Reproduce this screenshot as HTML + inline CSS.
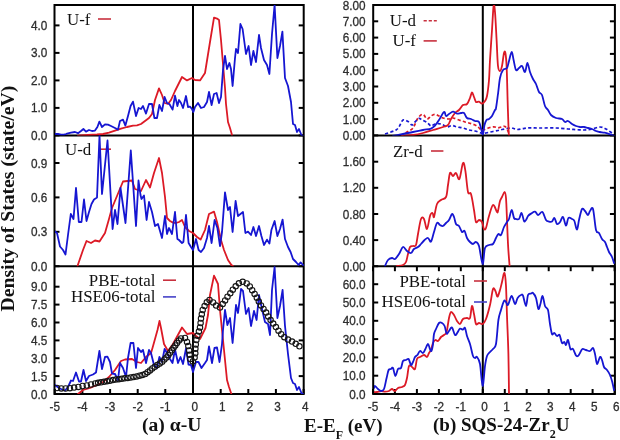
<!DOCTYPE html><html><head><meta charset="utf-8"><style>html,body{margin:0;padding:0;background:#fff;overflow:hidden}svg{display:block;filter:blur(0.42px)}</style></head><body>
<svg width="620" height="440" viewBox="0 0 620 440">
<rect width="620" height="440" fill="#fff"/>
<defs><clipPath id="cLT"><rect x="55" y="5" width="249" height="130.4"/></clipPath><clipPath id="cLM"><rect x="55" y="135.4" width="249" height="130.8"/></clipPath><clipPath id="cLB"><rect x="55" y="266.2" width="249" height="127.8"/></clipPath><clipPath id="cRT"><rect x="374" y="5" width="241" height="130.4"/></clipPath><clipPath id="cRM"><rect x="374" y="135.4" width="241" height="130.8"/></clipPath><clipPath id="cRB"><rect x="374" y="266.2" width="241" height="127.8"/></clipPath></defs>
<rect x="54.5" y="5" width="249.2" height="389" fill="none" stroke="#000" stroke-width="2"/>
<line x1="54.5" y1="135.4" x2="303.7" y2="135.4" stroke="#000" stroke-width="2"/>
<line x1="54.5" y1="266.2" x2="303.7" y2="266.2" stroke="#000" stroke-width="2"/>
<line x1="193.0" y1="5" x2="193.0" y2="394" stroke="#000" stroke-width="2"/>
<rect x="373.2" y="5" width="241.7" height="389" fill="none" stroke="#000" stroke-width="2"/>
<line x1="373.2" y1="135.4" x2="614.9" y2="135.4" stroke="#000" stroke-width="2"/>
<line x1="373.2" y1="266.2" x2="614.9" y2="266.2" stroke="#000" stroke-width="2"/>
<line x1="482.8" y1="5" x2="482.8" y2="394" stroke="#000" stroke-width="2"/>
<line x1="54.5" y1="135.4" x2="59.5" y2="135.4" stroke="#000" stroke-width="2"/>
<line x1="303.7" y1="135.4" x2="298.7" y2="135.4" stroke="#000" stroke-width="2"/>
<line x1="54.5" y1="107.9" x2="59.5" y2="107.9" stroke="#000" stroke-width="2"/>
<line x1="303.7" y1="107.9" x2="298.7" y2="107.9" stroke="#000" stroke-width="2"/>
<line x1="54.5" y1="80.4" x2="59.5" y2="80.4" stroke="#000" stroke-width="2"/>
<line x1="303.7" y1="80.4" x2="298.7" y2="80.4" stroke="#000" stroke-width="2"/>
<line x1="54.5" y1="52.9" x2="59.5" y2="52.9" stroke="#000" stroke-width="2"/>
<line x1="303.7" y1="52.9" x2="298.7" y2="52.9" stroke="#000" stroke-width="2"/>
<line x1="54.5" y1="25.4" x2="59.5" y2="25.4" stroke="#000" stroke-width="2"/>
<line x1="303.7" y1="25.4" x2="298.7" y2="25.4" stroke="#000" stroke-width="2"/>
<line x1="54.5" y1="231.8" x2="59.5" y2="231.8" stroke="#000" stroke-width="2"/>
<line x1="303.7" y1="231.8" x2="298.7" y2="231.8" stroke="#000" stroke-width="2"/>
<line x1="54.5" y1="197.4" x2="59.5" y2="197.4" stroke="#000" stroke-width="2"/>
<line x1="303.7" y1="197.4" x2="298.7" y2="197.4" stroke="#000" stroke-width="2"/>
<line x1="54.5" y1="163.0" x2="59.5" y2="163.0" stroke="#000" stroke-width="2"/>
<line x1="303.7" y1="163.0" x2="298.7" y2="163.0" stroke="#000" stroke-width="2"/>
<line x1="54.5" y1="266.2" x2="59.5" y2="266.2" stroke="#000" stroke-width="2"/>
<line x1="303.7" y1="266.2" x2="298.7" y2="266.2" stroke="#000" stroke-width="2"/>
<line x1="54.5" y1="394.0" x2="59.5" y2="394.0" stroke="#000" stroke-width="2"/>
<line x1="303.7" y1="394.0" x2="298.7" y2="394.0" stroke="#000" stroke-width="2"/>
<line x1="54.5" y1="376.1" x2="59.5" y2="376.1" stroke="#000" stroke-width="2"/>
<line x1="303.7" y1="376.1" x2="298.7" y2="376.1" stroke="#000" stroke-width="2"/>
<line x1="54.5" y1="358.2" x2="59.5" y2="358.2" stroke="#000" stroke-width="2"/>
<line x1="303.7" y1="358.2" x2="298.7" y2="358.2" stroke="#000" stroke-width="2"/>
<line x1="54.5" y1="340.4" x2="59.5" y2="340.4" stroke="#000" stroke-width="2"/>
<line x1="303.7" y1="340.4" x2="298.7" y2="340.4" stroke="#000" stroke-width="2"/>
<line x1="54.5" y1="322.5" x2="59.5" y2="322.5" stroke="#000" stroke-width="2"/>
<line x1="303.7" y1="322.5" x2="298.7" y2="322.5" stroke="#000" stroke-width="2"/>
<line x1="54.5" y1="304.6" x2="59.5" y2="304.6" stroke="#000" stroke-width="2"/>
<line x1="303.7" y1="304.6" x2="298.7" y2="304.6" stroke="#000" stroke-width="2"/>
<line x1="54.5" y1="286.7" x2="59.5" y2="286.7" stroke="#000" stroke-width="2"/>
<line x1="303.7" y1="286.7" x2="298.7" y2="286.7" stroke="#000" stroke-width="2"/>
<line x1="373.2" y1="135.4" x2="378.2" y2="135.4" stroke="#000" stroke-width="2"/>
<line x1="614.9" y1="135.4" x2="609.9" y2="135.4" stroke="#000" stroke-width="2"/>
<line x1="373.2" y1="119.1" x2="378.2" y2="119.1" stroke="#000" stroke-width="2"/>
<line x1="614.9" y1="119.1" x2="609.9" y2="119.1" stroke="#000" stroke-width="2"/>
<line x1="373.2" y1="102.8" x2="378.2" y2="102.8" stroke="#000" stroke-width="2"/>
<line x1="614.9" y1="102.8" x2="609.9" y2="102.8" stroke="#000" stroke-width="2"/>
<line x1="373.2" y1="86.5" x2="378.2" y2="86.5" stroke="#000" stroke-width="2"/>
<line x1="614.9" y1="86.5" x2="609.9" y2="86.5" stroke="#000" stroke-width="2"/>
<line x1="373.2" y1="70.2" x2="378.2" y2="70.2" stroke="#000" stroke-width="2"/>
<line x1="614.9" y1="70.2" x2="609.9" y2="70.2" stroke="#000" stroke-width="2"/>
<line x1="373.2" y1="53.9" x2="378.2" y2="53.9" stroke="#000" stroke-width="2"/>
<line x1="614.9" y1="53.9" x2="609.9" y2="53.9" stroke="#000" stroke-width="2"/>
<line x1="373.2" y1="37.6" x2="378.2" y2="37.6" stroke="#000" stroke-width="2"/>
<line x1="614.9" y1="37.6" x2="609.9" y2="37.6" stroke="#000" stroke-width="2"/>
<line x1="373.2" y1="21.3" x2="378.2" y2="21.3" stroke="#000" stroke-width="2"/>
<line x1="614.9" y1="21.3" x2="609.9" y2="21.3" stroke="#000" stroke-width="2"/>
<line x1="373.2" y1="5.0" x2="378.2" y2="5.0" stroke="#000" stroke-width="2"/>
<line x1="614.9" y1="5.0" x2="609.9" y2="5.0" stroke="#000" stroke-width="2"/>
<line x1="373.2" y1="240.1" x2="378.2" y2="240.1" stroke="#000" stroke-width="2"/>
<line x1="614.9" y1="240.1" x2="609.9" y2="240.1" stroke="#000" stroke-width="2"/>
<line x1="373.2" y1="214.0" x2="378.2" y2="214.0" stroke="#000" stroke-width="2"/>
<line x1="614.9" y1="214.0" x2="609.9" y2="214.0" stroke="#000" stroke-width="2"/>
<line x1="373.2" y1="187.8" x2="378.2" y2="187.8" stroke="#000" stroke-width="2"/>
<line x1="614.9" y1="187.8" x2="609.9" y2="187.8" stroke="#000" stroke-width="2"/>
<line x1="373.2" y1="161.7" x2="378.2" y2="161.7" stroke="#000" stroke-width="2"/>
<line x1="614.9" y1="161.7" x2="609.9" y2="161.7" stroke="#000" stroke-width="2"/>
<line x1="373.2" y1="266.2" x2="378.2" y2="266.2" stroke="#000" stroke-width="2"/>
<line x1="614.9" y1="266.2" x2="609.9" y2="266.2" stroke="#000" stroke-width="2"/>
<line x1="373.2" y1="394.0" x2="378.2" y2="394.0" stroke="#000" stroke-width="2"/>
<line x1="614.9" y1="394.0" x2="609.9" y2="394.0" stroke="#000" stroke-width="2"/>
<line x1="373.2" y1="375.7" x2="378.2" y2="375.7" stroke="#000" stroke-width="2"/>
<line x1="614.9" y1="375.7" x2="609.9" y2="375.7" stroke="#000" stroke-width="2"/>
<line x1="373.2" y1="357.4" x2="378.2" y2="357.4" stroke="#000" stroke-width="2"/>
<line x1="614.9" y1="357.4" x2="609.9" y2="357.4" stroke="#000" stroke-width="2"/>
<line x1="373.2" y1="339.1" x2="378.2" y2="339.1" stroke="#000" stroke-width="2"/>
<line x1="614.9" y1="339.1" x2="609.9" y2="339.1" stroke="#000" stroke-width="2"/>
<line x1="373.2" y1="320.8" x2="378.2" y2="320.8" stroke="#000" stroke-width="2"/>
<line x1="614.9" y1="320.8" x2="609.9" y2="320.8" stroke="#000" stroke-width="2"/>
<line x1="373.2" y1="302.5" x2="378.2" y2="302.5" stroke="#000" stroke-width="2"/>
<line x1="614.9" y1="302.5" x2="609.9" y2="302.5" stroke="#000" stroke-width="2"/>
<line x1="373.2" y1="284.2" x2="378.2" y2="284.2" stroke="#000" stroke-width="2"/>
<line x1="614.9" y1="284.2" x2="609.9" y2="284.2" stroke="#000" stroke-width="2"/>
<line x1="54.8" y1="394" x2="54.8" y2="389" stroke="#000" stroke-width="2"/>
<line x1="82.4" y1="394" x2="82.4" y2="389" stroke="#000" stroke-width="2"/>
<line x1="110.1" y1="394" x2="110.1" y2="389" stroke="#000" stroke-width="2"/>
<line x1="137.7" y1="394" x2="137.7" y2="389" stroke="#000" stroke-width="2"/>
<line x1="165.3" y1="394" x2="165.3" y2="389" stroke="#000" stroke-width="2"/>
<line x1="193.0" y1="394" x2="193.0" y2="389" stroke="#000" stroke-width="2"/>
<line x1="220.7" y1="394" x2="220.7" y2="389" stroke="#000" stroke-width="2"/>
<line x1="248.3" y1="394" x2="248.3" y2="389" stroke="#000" stroke-width="2"/>
<line x1="275.9" y1="394" x2="275.9" y2="389" stroke="#000" stroke-width="2"/>
<line x1="303.6" y1="394" x2="303.6" y2="389" stroke="#000" stroke-width="2"/>
<line x1="373.0" y1="394" x2="373.0" y2="389" stroke="#000" stroke-width="2"/>
<line x1="373.0" y1="266.2" x2="373.0" y2="271.2" stroke="#000" stroke-width="2"/>
<line x1="394.9" y1="394" x2="394.9" y2="389" stroke="#000" stroke-width="2"/>
<line x1="394.9" y1="266.2" x2="394.9" y2="271.2" stroke="#000" stroke-width="2"/>
<line x1="416.9" y1="394" x2="416.9" y2="389" stroke="#000" stroke-width="2"/>
<line x1="416.9" y1="266.2" x2="416.9" y2="271.2" stroke="#000" stroke-width="2"/>
<line x1="438.9" y1="394" x2="438.9" y2="389" stroke="#000" stroke-width="2"/>
<line x1="438.9" y1="266.2" x2="438.9" y2="271.2" stroke="#000" stroke-width="2"/>
<line x1="460.8" y1="394" x2="460.8" y2="389" stroke="#000" stroke-width="2"/>
<line x1="460.8" y1="266.2" x2="460.8" y2="271.2" stroke="#000" stroke-width="2"/>
<line x1="482.8" y1="394" x2="482.8" y2="389" stroke="#000" stroke-width="2"/>
<line x1="482.8" y1="266.2" x2="482.8" y2="271.2" stroke="#000" stroke-width="2"/>
<line x1="504.8" y1="394" x2="504.8" y2="389" stroke="#000" stroke-width="2"/>
<line x1="504.8" y1="266.2" x2="504.8" y2="271.2" stroke="#000" stroke-width="2"/>
<line x1="526.7" y1="394" x2="526.7" y2="389" stroke="#000" stroke-width="2"/>
<line x1="526.7" y1="266.2" x2="526.7" y2="271.2" stroke="#000" stroke-width="2"/>
<line x1="548.7" y1="394" x2="548.7" y2="389" stroke="#000" stroke-width="2"/>
<line x1="548.7" y1="266.2" x2="548.7" y2="271.2" stroke="#000" stroke-width="2"/>
<line x1="570.7" y1="394" x2="570.7" y2="389" stroke="#000" stroke-width="2"/>
<line x1="570.7" y1="266.2" x2="570.7" y2="271.2" stroke="#000" stroke-width="2"/>
<line x1="592.6" y1="394" x2="592.6" y2="389" stroke="#000" stroke-width="2"/>
<line x1="592.6" y1="266.2" x2="592.6" y2="271.2" stroke="#000" stroke-width="2"/>
<line x1="614.6" y1="394" x2="614.6" y2="389" stroke="#000" stroke-width="2"/>
<line x1="614.6" y1="266.2" x2="614.6" y2="271.2" stroke="#000" stroke-width="2"/>
<line x1="98" y1="19" x2="111" y2="19" stroke="#c8303e" stroke-width="1.6"/>
<line x1="100.6" y1="149.2" x2="111" y2="149.2" stroke="#c8303e" stroke-width="1.6"/>
<line x1="163" y1="280.2" x2="176" y2="280.2" stroke="#c8303e" stroke-width="1.6"/>
<line x1="163" y1="296.9" x2="176" y2="296.9" stroke="#4642c8" stroke-width="1.6"/>
<line x1="423.6" y1="20.7" x2="436.8" y2="20.7" stroke="#c8303e" stroke-width="1.6" stroke-dasharray="3.2,1.9"/>
<line x1="423.6" y1="40.9" x2="436.8" y2="40.9" stroke="#c8303e" stroke-width="1.6"/>
<line x1="431" y1="151" x2="443.4" y2="151" stroke="#c8303e" stroke-width="1.6"/>
<line x1="474" y1="281" x2="487" y2="281" stroke="#c8303e" stroke-width="1.6"/>
<line x1="474" y1="302" x2="487" y2="302" stroke="#4642c8" stroke-width="1.6"/>
<g clip-path="url(#cLT)"><polyline points="78.0,135.6 88.0,135.0 97.0,134.5 103.0,134.0 109.0,132.6 115.0,130.6 121.0,128.6 127.0,127.0 133.0,125.6 137.0,125.4 141.0,124.0 145.0,121.0 149.0,118.0 152.0,114.0 155.0,100.0 159.0,88.4 162.0,95.0 164.6,103.0 168.0,104.0 171.0,100.0 175.0,91.0 182.0,77.0 187.0,80.4 192.0,78.0 195.0,80.0 200.0,80.4 205.0,73.0 210.0,42.0 214.0,17.6 217.0,18.6 219.0,20.0 221.0,40.0 223.0,64.0 225.0,88.0 226.0,104.0 228.0,122.0 230.0,128.0 232.0,135.0" fill="none" stroke="#dc1a26" stroke-width="1.8" stroke-linejoin="round" stroke-linecap="round"/><polyline points="55.0,133.8 58.0,134.0 61.0,134.6 64.0,134.6 66.0,134.0 67.0,133.6 71.0,132.6 75.0,132.0 78.0,133.2 81.0,131.0 83.4,129.0 86.0,131.6 89.0,130.0 92.0,131.0 95.0,130.6 97.4,127.0 99.4,121.6 102.0,127.0 105.0,124.4 108.0,124.6 111.0,126.0 115.0,128.0 118.0,129.6 120.0,121.0 123.0,119.6 125.4,125.6 128.0,116.0 130.6,106.0 133.0,101.6 136.0,116.0 138.6,108.0 141.0,109.0 143.0,106.0 146.0,113.6 149.0,104.0 152.0,104.0 154.4,118.0 157.0,118.0 159.4,105.0 162.0,111.0 164.6,97.0 167.0,103.0 169.4,104.0 172.6,109.6 175.0,95.6 177.4,106.0 179.0,100.0 181.0,103.0 183.0,108.0 186.0,96.0 188.0,107.0 190.0,106.6 192.0,109.0 193.4,112.0 195.0,107.0 198.0,103.0 201.0,108.0 204.0,107.0 207.0,102.0 209.0,92.0 211.6,105.0 214.0,94.0 216.6,93.0 219.0,103.0 221.0,97.0 223.0,70.0 225.0,56.0 227.0,69.0 229.4,63.0 231.0,69.0 232.6,86.0 235.0,58.0 236.0,49.0 238.0,53.0 240.4,24.0 242.6,29.0 246.0,54.0 248.6,46.0 251.0,65.0 253.4,51.0 256.0,62.0 259.0,35.0 261.0,48.0 264.0,60.0 267.0,65.0 269.4,74.0 272.0,34.0 274.6,5.0 277.4,58.0 280.0,46.0 282.4,31.6 285.0,78.0 288.0,86.0 291.0,102.0 293.0,124.0 295.0,125.0 297.0,132.0 299.0,129.0 301.4,135.0 303.0,136.0" fill="none" stroke="#1616d2" stroke-width="1.8" stroke-linejoin="round" stroke-linecap="round"/></g>
<g clip-path="url(#cLM)"><polyline points="77.5,266.0 83.0,250.0 86.5,241.0 91.0,243.0 95.0,240.5 99.5,241.5 105.0,233.0 109.0,219.0 112.0,208.0 117.0,196.0 123.0,181.5 132.0,180.5 135.0,189.0 141.0,191.0 146.0,180.0 150.0,187.5 154.0,173.0 159.0,158.0 162.0,173.0 165.0,197.0 167.0,218.0 170.0,221.0 173.0,222.6 176.0,223.0 179.0,222.0 182.0,220.0 185.0,227.0 189.0,231.0 193.0,233.0 197.0,237.0 200.6,239.6 205.0,230.0 209.0,214.0 214.0,211.6 217.0,222.0 221.0,240.0 224.0,250.0 228.0,260.0 231.4,265.0 233.0,266.0" fill="none" stroke="#dc1a26" stroke-width="1.8" stroke-linejoin="round" stroke-linecap="round"/><polyline points="55.0,231.5 57.0,233.0 60.0,246.5 63.0,250.0 65.5,254.5 68.0,235.0 70.8,214.0 73.5,219.0 76.0,188.0 78.8,222.0 81.5,222.0 84.0,199.5 86.5,221.0 89.0,212.0 91.5,204.0 94.0,199.5 97.0,197.5 99.5,135.5 102.0,194.0 107.5,140.5 112.6,229.0 115.0,210.0 117.5,224.0 120.5,188.0 125.5,223.0 130.8,150.5 136.0,226.0 138.5,180.5 140.5,195.0 141.5,199.0 144.0,195.5 146.6,220.0 149.0,202.0 152.0,212.0 155.0,226.0 158.0,224.0 162.0,238.0 165.0,216.0 167.0,234.0 169.0,228.0 172.0,234.0 175.0,212.0 177.4,239.0 179.0,240.0 182.0,243.0 183.4,242.0 186.0,215.0 188.6,243.0 191.0,247.0 193.0,250.0 196.0,239.0 198.6,250.0 201.0,252.0 204.0,248.0 207.0,238.0 209.0,226.0 211.6,243.0 214.6,220.0 217.4,228.0 220.0,246.0 222.0,232.0 225.0,192.4 228.0,210.0 230.0,207.0 232.6,232.0 235.6,201.0 238.0,216.0 243.0,212.0 245.4,233.0 248.0,231.6 251.0,235.0 253.4,227.0 256.0,236.0 259.0,226.0 261.4,236.0 264.0,245.0 267.0,239.6 269.4,243.6 271.4,230.0 274.6,221.0 277.4,236.0 280.0,229.0 282.6,219.6 285.0,239.0 288.0,247.0 290.6,252.0 293.0,259.0 296.0,262.0 298.6,265.0 300.6,262.4 303.0,265.0" fill="none" stroke="#1616d2" stroke-width="1.8" stroke-linejoin="round" stroke-linecap="round"/></g>
<g clip-path="url(#cLB)"><polyline points="78.0,394.0 83.0,390.0 90.0,388.0 97.0,385.0 103.0,382.0 109.0,377.0 115.0,370.0 117.0,367.0 121.0,361.0 125.0,359.5 132.0,359.0 137.0,362.0 141.0,363.0 146.0,357.0 151.0,353.0 152.5,348.0 155.0,339.0 157.5,330.0 159.5,321.0 161.0,328.0 164.0,344.0 168.0,351.0 173.0,344.0 179.0,333.0 182.0,327.5 187.0,334.0 190.0,333.5 193.0,333.0 196.0,336.0 200.0,339.0 205.5,328.0 208.0,315.0 210.0,295.0 214.0,275.6 218.0,284.0 220.0,310.0 222.0,330.0 224.0,350.0 227.0,380.0 229.0,387.0 231.4,394.0" fill="none" stroke="#dc1a26" stroke-width="1.8" stroke-linejoin="round" stroke-linecap="round"/><polyline points="55.0,385.0 59.0,388.0 62.0,389.5 65.0,390.5 68.0,387.0 71.0,380.5 73.0,381.0 76.0,372.5 79.0,381.5 81.0,381.5 83.5,370.0 86.0,381.0 89.0,376.0 93.0,374.5 96.0,372.5 99.4,351.0 102.0,369.0 105.0,357.0 107.4,356.6 110.0,362.0 112.0,373.6 115.0,374.0 118.0,380.0 120.0,363.0 123.0,368.0 126.0,377.0 128.0,358.0 130.6,343.0 133.4,343.0 136.0,368.0 138.0,348.0 141.0,352.0 143.0,350.0 146.0,363.0 149.0,350.0 151.0,353.0 154.0,365.0 157.0,368.0 159.4,357.0 162.0,362.0 164.6,349.0 167.0,353.0 170.0,359.0 172.5,363.0 175.0,349.5 178.0,363.0 180.5,357.0 183.0,364.0 186.0,348.5 188.5,364.5 191.0,365.0 193.0,372.0 196.0,362.0 198.5,362.0 201.5,368.0 205.0,363.0 207.0,360.0 209.0,346.5 212.0,363.0 214.5,348.0 217.0,347.5 219.5,362.0 222.0,344.0 223.0,330.0 225.0,310.0 227.4,325.0 230.0,318.0 232.6,343.0 236.0,305.0 238.0,313.0 241.0,289.0 243.0,291.0 246.0,314.0 248.6,308.0 251.0,326.0 254.0,311.0 256.6,320.0 259.0,295.0 262.0,309.0 265.0,322.0 268.0,324.0 270.0,335.0 272.0,290.0 274.6,267.0 277.4,318.0 280.0,306.0 282.6,290.0 285.0,326.0 288.0,354.0 291.0,378.0 293.0,383.0 295.0,384.0 297.0,390.0 299.0,387.0 301.4,393.0 303.0,394.0" fill="none" stroke="#1616d2" stroke-width="1.8" stroke-linejoin="round" stroke-linecap="round"/><g fill="none" stroke="#151515" stroke-width="1.1"><circle cx="57.0" cy="388.0" r="2.7"/><circle cx="61.3" cy="388.4" r="2.7"/><circle cx="65.6" cy="388.5" r="2.7"/><circle cx="69.9" cy="388.2" r="2.7"/><circle cx="74.1" cy="387.6" r="2.7"/><circle cx="78.4" cy="386.9" r="2.7"/><circle cx="82.6" cy="386.0" r="2.7"/><circle cx="86.8" cy="385.5" r="2.7"/><circle cx="91.0" cy="384.5" r="2.7"/><circle cx="95.2" cy="383.4" r="2.7"/><circle cx="98.1" cy="382.8" r="2.7"/><circle cx="101.1" cy="382.3" r="2.7"/><circle cx="104.0" cy="381.8" r="2.7"/><circle cx="107.0" cy="381.2" r="2.7"/><circle cx="109.9" cy="380.7" r="2.7"/><circle cx="112.9" cy="380.1" r="2.7"/><circle cx="115.8" cy="379.6" r="2.7"/><circle cx="118.8" cy="379.2" r="2.7"/><circle cx="121.8" cy="378.8" r="2.7"/><circle cx="124.7" cy="378.3" r="2.7"/><circle cx="127.7" cy="377.9" r="2.7"/><circle cx="130.7" cy="377.5" r="2.7"/><circle cx="133.6" cy="377.1" r="2.7"/><circle cx="136.6" cy="376.5" r="2.7"/><circle cx="139.5" cy="375.7" r="2.7"/><circle cx="142.4" cy="374.9" r="2.7"/><circle cx="145.2" cy="374.0" r="2.7"/><circle cx="147.6" cy="372.2" r="2.7"/><circle cx="150.0" cy="370.4" r="2.7"/><circle cx="152.3" cy="368.5" r="2.7"/><circle cx="154.8" cy="366.8" r="2.7"/><circle cx="157.3" cy="365.1" r="2.7"/><circle cx="159.8" cy="363.5" r="2.7"/><circle cx="162.2" cy="361.8" r="2.7"/><circle cx="164.4" cy="359.6" r="2.7"/><circle cx="166.5" cy="357.5" r="2.7"/><circle cx="168.3" cy="355.2" r="2.7"/><circle cx="170.1" cy="352.7" r="2.7"/><circle cx="171.8" cy="350.3" r="2.7"/><circle cx="173.6" cy="347.8" r="2.7"/><circle cx="175.3" cy="345.4" r="2.7"/><circle cx="177.0" cy="343.0" r="2.7"/><circle cx="179.0" cy="340.6" r="2.7"/><circle cx="181.0" cy="338.5" r="2.7"/><circle cx="185.0" cy="338.0" r="2.7"/><circle cx="187.0" cy="341.9" r="2.7"/><circle cx="188.3" cy="346.1" r="2.7"/><circle cx="189.1" cy="350.4" r="2.7"/><circle cx="189.6" cy="354.8" r="2.7"/><circle cx="190.2" cy="359.1" r="2.7"/><circle cx="192.8" cy="361.4" r="2.7"/><circle cx="194.6" cy="357.5" r="2.7"/><circle cx="195.3" cy="353.2" r="2.7"/><circle cx="195.4" cy="348.8" r="2.7"/><circle cx="195.8" cy="344.4" r="2.7"/><circle cx="196.4" cy="340.0" r="2.7"/><circle cx="197.4" cy="335.8" r="2.7"/><circle cx="198.9" cy="331.6" r="2.7"/><circle cx="200.0" cy="327.4" r="2.7"/><circle cx="200.6" cy="323.0" r="2.7"/><circle cx="201.0" cy="318.6" r="2.7"/><circle cx="201.8" cy="314.3" r="2.7"/><circle cx="202.7" cy="310.0" r="2.7"/><circle cx="204.6" cy="306.1" r="2.7"/><circle cx="206.8" cy="302.3" r="2.7"/><circle cx="209.5" cy="300.0" r="2.7"/><circle cx="213.1" cy="302.4" r="2.7"/><circle cx="216.1" cy="305.6" r="2.7"/><circle cx="220.0" cy="307.5" r="2.7"/><circle cx="222.7" cy="304.0" r="2.7"/><circle cx="225.1" cy="300.4" r="2.7"/><circle cx="227.5" cy="296.7" r="2.7"/><circle cx="230.3" cy="293.3" r="2.7"/><circle cx="232.8" cy="289.7" r="2.7"/><circle cx="235.7" cy="286.3" r="2.7"/><circle cx="238.9" cy="283.3" r="2.7"/><circle cx="242.7" cy="281.8" r="2.7"/><circle cx="246.7" cy="283.4" r="2.7"/><circle cx="249.8" cy="286.5" r="2.7"/><circle cx="252.2" cy="290.2" r="2.7"/><circle cx="254.6" cy="293.9" r="2.7"/><circle cx="256.8" cy="297.7" r="2.7"/><circle cx="258.8" cy="301.6" r="2.7"/><circle cx="261.0" cy="305.4" r="2.7"/><circle cx="263.5" cy="309.0" r="2.7"/><circle cx="266.1" cy="312.6" r="2.7"/><circle cx="268.2" cy="316.4" r="2.7"/><circle cx="270.6" cy="320.1" r="2.7"/><circle cx="273.2" cy="323.6" r="2.7"/><circle cx="275.9" cy="327.1" r="2.7"/><circle cx="278.5" cy="330.7" r="2.7"/><circle cx="281.2" cy="334.2" r="2.7"/><circle cx="284.3" cy="337.2" r="2.7"/><circle cx="288.0" cy="339.6" r="2.7"/><circle cx="292.0" cy="341.6" r="2.7"/><circle cx="295.7" cy="343.8" r="2.7"/><circle cx="299.4" cy="346.3" r="2.7"/></g></g>
<g clip-path="url(#cRT)"><path d="M401.0,136.0 C402.0,135.3 405.0,133.3 407.0,132.0 C409.0,130.7 411.2,130.3 413.0,128.0 C414.8,125.7 416.3,120.3 418.0,118.0 C419.7,115.7 421.5,114.2 423.0,114.4 C424.5,114.6 425.7,118.7 427.0,119.0 C428.3,119.3 429.7,116.8 431.0,116.0 C432.3,115.2 433.7,114.4 435.0,114.4 C436.3,114.4 437.7,115.4 439.0,116.0 C440.3,116.6 441.3,117.5 443.0,118.0 C444.7,118.5 447.3,119.0 449.0,119.0 C450.7,119.0 451.3,117.8 453.0,118.0 C454.7,118.2 457.0,119.3 459.0,120.0 C461.0,120.7 463.0,121.4 465.0,122.0 C467.0,122.6 469.0,122.9 471.0,123.6 C473.0,124.3 475.3,124.9 477.0,126.0 C478.7,127.1 480.0,129.3 481.0,130.0 C482.0,130.7 482.2,130.2 483.0,130.0 C483.8,129.8 484.8,129.4 486.0,129.0 C487.2,128.6 488.7,127.9 490.0,127.5 C491.3,127.1 492.7,126.8 494.0,126.8 C495.3,126.8 496.7,127.8 498.0,127.8 C499.3,127.8 500.8,127.0 502.0,126.8 C503.2,126.6 504.0,125.8 505.0,126.5 C506.0,127.2 507.3,129.6 508.0,131.0 C508.7,132.4 508.8,134.3 509.0,135.0" fill="none" stroke="#dc1a26" stroke-width="1.7" stroke-linejoin="round" stroke-dasharray="3.2,2.3" stroke-linecap="butt"/><path d="M385.0,134.0 C386.0,133.7 389.2,132.7 391.0,132.0 C392.8,131.3 394.7,130.8 396.0,130.0 C397.3,129.2 397.8,128.7 399.0,127.0 C400.2,125.3 401.5,120.9 403.0,120.0 C404.5,119.1 406.5,120.8 408.0,121.6 C409.5,122.4 410.8,124.9 412.0,125.0 C413.2,125.1 413.8,123.1 415.0,122.0 C416.2,120.9 417.8,118.7 419.0,118.4 C420.2,118.1 420.7,119.3 422.0,120.0 C423.3,120.7 425.5,121.4 427.0,122.4 C428.5,123.4 429.7,125.7 431.0,126.0 C432.3,126.3 433.3,124.3 435.0,124.0 C436.7,123.7 439.0,123.5 441.0,124.0 C443.0,124.5 445.5,126.7 447.0,127.0 C448.5,127.3 449.0,126.2 450.0,126.0 C451.0,125.8 451.8,125.4 453.0,125.6 C454.2,125.8 455.3,126.6 457.0,127.0 C458.7,127.4 461.0,127.5 463.0,128.0 C465.0,128.5 467.0,129.5 469.0,130.0 C471.0,130.5 473.0,130.5 475.0,131.0 C477.0,131.5 479.7,132.6 481.0,133.0 C482.3,133.4 481.8,133.6 483.0,133.5 C484.2,133.4 486.3,132.8 488.0,132.5 C489.7,132.2 491.3,131.8 493.0,131.5 C494.7,131.2 496.5,130.8 498.0,130.5 C499.5,130.2 500.5,129.8 502.0,129.5 C503.5,129.2 505.3,128.8 507.0,128.5 C508.7,128.2 510.3,127.8 512.0,128.0 C513.7,128.2 515.3,129.4 517.0,129.5 C518.7,129.6 520.3,129.1 522.0,128.8 C523.7,128.6 525.3,128.2 527.0,128.0 C528.7,127.8 530.3,127.8 532.0,127.8 C533.7,127.8 535.0,128.0 537.0,128.0 C539.0,128.0 540.8,128.0 544.0,128.0 C547.2,128.0 552.0,127.8 556.0,128.0 C560.0,128.2 564.7,128.7 568.0,129.0 C571.3,129.3 573.3,129.4 576.0,129.6 C578.7,129.8 581.3,130.1 584.0,130.0 C586.7,129.9 589.3,129.5 592.0,129.0 C594.7,128.5 597.7,127.0 600.0,127.0 C602.3,127.0 604.0,128.0 606.0,129.0 C608.0,130.0 610.7,132.2 612.0,133.0 C613.3,133.8 613.7,133.8 614.0,134.0" fill="none" stroke="#1616d2" stroke-width="1.7" stroke-linejoin="round" stroke-dasharray="3.2,2.3" stroke-linecap="butt"/><path d="M403.0,136.0 C404.7,135.8 409.7,135.5 413.0,135.0 C416.3,134.5 419.7,133.8 423.0,133.0 C426.3,132.2 429.7,131.0 433.0,130.0 C436.3,129.0 440.5,127.8 443.0,127.0 C445.5,126.2 446.7,126.3 448.0,125.0 C449.3,123.7 449.8,121.0 451.0,119.0 C452.2,117.0 453.7,114.5 455.0,113.0 C456.3,111.5 457.7,111.3 459.0,110.0 C460.3,108.7 461.7,106.0 463.0,105.0 C464.3,104.0 465.8,105.2 467.0,104.0 C468.2,102.8 469.2,99.9 470.0,98.0 C470.8,96.1 471.3,92.6 472.0,92.4 C472.7,92.2 473.3,95.4 474.0,97.0 C474.7,98.6 475.2,101.2 476.0,102.0 C476.8,102.8 478.0,101.3 479.0,101.6 C480.0,101.9 481.0,103.7 482.0,103.6 C483.0,103.5 484.2,102.3 485.0,101.0 C485.8,99.7 486.3,99.5 487.0,96.0 C487.7,92.5 488.5,86.0 489.0,80.0 C489.5,74.0 489.5,68.3 490.0,60.0 C490.5,51.7 491.4,39.0 492.0,30.0 C492.6,21.0 493.1,9.0 493.6,6.0 C494.1,3.0 494.5,6.3 495.0,12.0 C495.5,17.7 496.1,31.0 496.6,40.0 C497.1,49.0 497.4,60.8 498.0,66.0 C498.6,71.2 499.3,71.0 500.0,71.0 C500.7,71.0 501.3,69.0 502.0,66.0 C502.7,63.0 503.4,55.2 504.0,53.0 C504.6,50.8 505.0,50.8 505.4,53.0 C505.8,55.2 506.2,58.2 506.6,66.0 C507.0,73.8 507.3,89.3 507.6,100.0 C507.9,110.7 508.4,124.2 508.6,130.0 C508.8,135.8 508.9,134.2 509.0,135.0" fill="none" stroke="#dc1a26" stroke-width="1.8" stroke-linejoin="round" stroke-linecap="round"/><path d="M393.0,136.0 C394.7,135.7 399.7,134.7 403.0,134.0 C406.3,133.3 409.7,132.7 413.0,132.0 C416.3,131.3 420.0,130.6 423.0,130.0 C426.0,129.4 429.0,129.3 431.0,128.6 C433.0,127.9 433.7,127.0 435.0,125.6 C436.3,124.2 437.5,122.3 439.0,120.0 C440.5,117.7 442.8,112.7 444.0,112.0 C445.2,111.3 445.2,115.7 446.0,116.0 C446.8,116.3 447.8,114.7 449.0,114.0 C450.2,113.3 451.7,111.7 453.0,111.6 C454.3,111.5 455.7,113.4 457.0,113.6 C458.3,113.8 459.8,113.1 461.0,113.0 C462.2,112.9 463.0,112.2 464.0,113.0 C465.0,113.8 465.8,117.0 467.0,118.0 C468.2,119.0 469.7,118.5 471.0,119.0 C472.3,119.5 473.7,120.5 475.0,121.0 C476.3,121.5 477.8,120.2 479.0,122.0 C480.2,123.8 481.3,130.0 482.0,132.0 C482.7,134.0 482.6,135.2 483.0,134.0 C483.4,132.8 483.9,127.3 484.5,125.0 C485.1,122.7 485.8,121.0 486.5,120.0 C487.2,119.0 488.1,119.7 489.0,119.0 C489.9,118.3 491.0,117.5 492.0,116.0 C493.0,114.5 494.3,111.3 495.0,110.0 C495.7,108.7 495.5,110.7 496.0,108.0 C496.5,105.3 497.3,99.0 498.0,94.0 C498.7,89.0 499.2,82.0 500.0,78.0 C500.8,74.0 501.8,71.7 503.0,70.0 C504.2,68.3 506.0,69.5 507.0,68.0 C508.0,66.5 508.2,63.7 509.0,61.0 C509.8,58.3 510.8,52.2 511.6,52.0 C512.4,51.8 512.9,57.0 513.6,60.0 C514.3,63.0 515.1,68.7 516.0,70.0 C516.9,71.3 518.0,68.7 519.0,68.0 C520.0,67.3 521.0,65.3 522.0,66.0 C523.0,66.7 524.1,72.5 525.0,72.0 C525.9,71.5 526.6,63.0 527.4,63.0 C528.2,63.0 529.1,69.3 530.0,72.0 C530.9,74.7 532.0,77.0 533.0,79.0 C534.0,81.0 535.0,81.8 536.0,84.0 C537.0,86.2 538.0,90.2 539.0,92.0 C540.0,93.8 541.0,92.7 542.0,95.0 C543.0,97.3 544.0,103.5 545.0,106.0 C546.0,108.5 547.0,108.5 548.0,110.0 C549.0,111.5 549.7,113.7 551.0,115.0 C552.3,116.3 554.2,117.3 556.0,118.0 C557.8,118.7 560.5,118.3 562.0,119.0 C563.5,119.7 564.0,121.7 565.0,122.0 C566.0,122.3 566.8,120.7 568.0,121.0 C569.2,121.3 570.7,123.2 572.0,124.0 C573.3,124.8 574.7,125.5 576.0,126.0 C577.3,126.5 578.7,126.8 580.0,127.0 C581.3,127.2 582.7,126.8 584.0,127.0 C585.3,127.2 586.7,127.7 588.0,128.0 C589.3,128.3 590.7,128.5 592.0,129.0 C593.3,129.5 594.7,130.5 596.0,131.0 C597.3,131.5 598.7,131.7 600.0,132.0 C601.3,132.3 602.7,132.3 604.0,132.6 C605.3,132.9 606.7,133.2 608.0,133.6 C609.3,134.0 611.0,134.6 612.0,135.0 C613.0,135.4 613.7,135.8 614.0,136.0" fill="none" stroke="#1616d2" stroke-width="1.8" stroke-linejoin="round" stroke-linecap="round"/></g>
<g clip-path="url(#cRM)"><path d="M397.0,266.0 C398.0,265.8 401.5,265.7 403.0,265.0 C404.5,264.3 405.2,263.8 406.0,262.0 C406.8,260.2 407.3,256.5 408.0,254.0 C408.7,251.5 409.2,248.3 410.0,247.0 C410.8,245.7 412.0,246.3 413.0,246.0 C414.0,245.7 415.2,247.0 416.0,245.0 C416.8,243.0 417.2,238.3 418.0,234.0 C418.8,229.7 420.0,221.5 421.0,219.0 C422.0,216.5 423.0,217.3 424.0,219.0 C425.0,220.7 426.0,229.5 427.0,229.0 C428.0,228.5 429.1,218.7 430.0,216.0 C430.9,213.3 431.9,212.8 432.6,213.0 C433.3,213.2 433.3,218.5 434.0,217.0 C434.7,215.5 435.8,206.8 437.0,204.0 C438.2,201.2 439.5,201.2 441.0,200.0 C442.5,198.8 444.8,199.5 446.0,197.0 C447.2,194.5 447.3,189.0 448.0,185.0 C448.7,181.0 449.2,174.5 450.0,173.0 C450.8,171.5 452.0,176.0 453.0,176.0 C454.0,176.0 454.9,172.5 456.0,173.0 C457.1,173.5 458.2,180.7 459.4,179.0 C460.6,177.3 462.0,164.3 463.0,163.0 C464.0,161.7 464.6,166.2 465.4,171.0 C466.2,175.8 467.1,188.2 468.0,192.0 C468.9,195.8 470.0,191.0 471.0,194.0 C472.0,197.0 473.2,205.3 474.0,210.0 C474.8,214.7 475.2,220.3 476.0,222.0 C476.8,223.7 478.0,220.0 479.0,220.0 C480.0,220.0 481.2,220.5 482.0,222.0 C482.8,223.5 483.3,228.0 484.0,229.0 C484.7,230.0 485.2,230.2 486.0,228.0 C486.8,225.8 487.8,219.8 489.0,216.0 C490.2,212.2 491.7,205.7 493.0,205.0 C494.3,204.3 496.2,211.0 497.0,212.0 C497.8,213.0 497.5,212.8 498.0,211.0 C498.5,209.2 499.3,203.3 500.0,201.0 C500.7,198.7 501.2,198.5 502.0,197.0 C502.8,195.5 503.9,191.8 504.6,192.0 C505.3,192.2 505.6,193.3 506.0,198.0 C506.4,202.7 506.7,212.3 507.0,220.0 C507.3,227.7 507.6,236.3 508.0,244.0 C508.4,251.7 509.3,262.3 509.6,266.0" fill="none" stroke="#dc1a26" stroke-width="1.8" stroke-linejoin="round" stroke-linecap="round"/><path d="M385.0,266.0 C385.5,265.0 386.8,261.3 388.0,260.0 C389.2,258.7 390.8,258.2 392.0,258.0 C393.2,257.8 393.8,259.7 395.0,259.0 C396.2,258.3 397.7,256.0 399.0,254.0 C400.3,252.0 401.7,247.5 403.0,247.0 C404.3,246.5 405.7,250.0 407.0,251.0 C408.3,252.0 409.8,253.3 411.0,253.0 C412.2,252.7 412.8,250.0 414.0,249.0 C415.2,248.0 416.8,247.8 418.0,247.0 C419.2,246.2 419.9,245.2 421.0,244.0 C422.1,242.8 423.4,241.0 424.6,240.0 C425.8,239.0 426.9,237.7 428.0,238.0 C429.1,238.3 430.0,242.6 431.0,241.6 C432.0,240.6 433.0,235.1 434.0,232.0 C435.0,228.9 436.0,224.2 437.0,223.0 C438.0,221.8 439.0,224.5 440.0,225.0 C441.0,225.5 442.0,226.3 443.0,226.0 C444.0,225.7 445.0,224.0 446.0,223.0 C447.0,222.0 448.0,221.5 449.0,220.0 C450.0,218.5 451.2,214.5 452.0,214.0 C452.8,213.5 453.3,215.3 454.0,217.0 C454.7,218.7 455.2,222.5 456.0,224.0 C456.8,225.5 458.0,224.7 459.0,226.0 C460.0,227.3 461.1,231.2 462.0,232.0 C462.9,232.8 463.8,230.0 464.6,231.0 C465.4,232.0 466.1,236.2 467.0,238.0 C467.9,239.8 469.0,241.0 470.0,242.0 C471.0,243.0 472.0,244.0 473.0,244.0 C474.0,244.0 475.0,241.7 476.0,242.0 C477.0,242.3 477.9,242.3 479.0,246.0 C480.1,249.7 481.6,263.7 482.6,264.0 C483.6,264.3 483.9,251.2 485.0,248.0 C486.1,244.8 487.7,245.7 489.0,245.0 C490.3,244.3 491.8,245.2 493.0,244.0 C494.2,242.8 495.1,239.7 496.0,238.0 C496.9,236.3 497.6,234.5 498.4,234.0 C499.2,233.5 500.1,236.2 501.0,235.0 C501.9,233.8 503.0,229.2 504.0,227.0 C505.0,224.8 506.2,223.3 507.0,222.0 C507.8,220.7 508.2,221.0 509.0,219.0 C509.8,217.0 510.8,210.2 511.6,210.0 C512.4,209.8 513.3,216.5 514.0,218.0 C514.7,219.5 515.2,218.8 516.0,219.0 C516.8,219.2 518.1,220.0 519.0,219.0 C519.9,218.0 520.8,212.7 521.6,213.0 C522.4,213.3 523.3,219.8 524.0,221.0 C524.7,222.2 525.3,220.8 526.0,220.0 C526.7,219.2 527.2,217.1 528.0,216.0 C528.8,214.9 529.8,214.3 531.0,213.6 C532.2,212.9 533.8,211.4 535.0,211.6 C536.2,211.8 536.8,214.9 538.0,215.0 C539.2,215.1 541.1,211.2 542.4,212.0 C543.7,212.8 544.9,218.4 546.0,220.0 C547.1,221.6 548.0,221.3 549.0,221.6 C550.0,221.9 551.1,222.2 552.0,221.6 C552.9,221.0 553.6,217.6 554.4,218.0 C555.2,218.4 556.1,223.3 557.0,224.0 C557.9,224.7 559.0,223.2 560.0,222.0 C561.0,220.8 562.0,216.4 563.0,217.0 C564.0,217.6 565.1,225.4 566.0,225.6 C566.9,225.8 567.4,219.1 568.4,218.0 C569.4,216.9 571.0,218.5 572.0,219.0 C573.0,219.5 573.6,219.2 574.4,221.0 C575.2,222.8 576.2,229.8 577.0,229.6 C577.8,229.4 578.2,223.4 579.0,220.0 C579.8,216.6 581.0,210.5 582.0,209.0 C583.0,207.5 584.0,210.0 585.0,211.0 C586.0,212.0 587.2,215.0 588.0,215.0 C588.8,215.0 589.2,212.0 590.0,211.0 C590.8,210.0 592.0,205.8 593.0,209.0 C594.0,212.2 595.0,226.0 596.0,230.0 C597.0,234.0 598.0,231.5 599.0,233.0 C600.0,234.5 601.0,237.5 602.0,239.0 C603.0,240.5 604.2,240.7 605.0,242.0 C605.8,243.3 606.3,245.3 607.0,247.0 C607.7,248.7 608.2,250.3 609.0,252.0 C609.8,253.7 611.2,255.2 612.0,257.0 C612.8,258.8 613.7,262.0 614.0,263.0" fill="none" stroke="#1616d2" stroke-width="1.8" stroke-linejoin="round" stroke-linecap="round"/></g>
<g clip-path="url(#cRB)"><path d="M374.0,392.0 C374.5,392.0 375.8,392.2 377.0,392.0 C378.2,391.8 379.7,391.1 381.0,391.0 C382.3,390.9 383.7,391.6 385.0,391.6 C386.3,391.6 387.8,391.4 389.0,391.0 C390.2,390.6 391.0,389.0 392.0,389.0 C393.0,389.0 394.0,391.2 395.0,391.0 C396.0,390.8 396.8,388.7 398.0,388.0 C399.2,387.3 400.8,387.5 402.0,387.0 C403.2,386.5 404.2,386.5 405.0,385.0 C405.8,383.5 406.3,381.2 407.0,378.0 C407.7,374.8 408.2,367.8 409.0,366.0 C409.8,364.2 411.0,366.5 412.0,367.0 C413.0,367.5 414.2,370.3 415.0,369.0 C415.8,367.7 416.2,361.0 417.0,359.0 C417.8,357.0 418.8,357.7 420.0,357.0 C421.2,356.3 422.8,355.0 424.0,355.0 C425.2,355.0 426.2,357.3 427.0,357.0 C427.8,356.7 428.3,354.2 429.0,353.0 C429.7,351.8 430.3,351.7 431.0,350.0 C431.7,348.3 432.3,344.7 433.0,343.0 C433.7,341.3 434.6,340.3 435.4,340.0 C436.2,339.7 437.1,341.5 438.0,341.0 C438.9,340.5 440.0,338.0 441.0,337.0 C442.0,336.0 443.1,335.8 444.0,335.0 C444.9,334.2 445.8,334.8 446.6,332.0 C447.4,329.2 448.3,321.3 449.0,318.0 C449.7,314.7 450.2,312.5 451.0,312.0 C451.8,311.5 453.0,313.5 454.0,315.0 C455.0,316.5 456.0,319.5 457.0,321.0 C458.0,322.5 459.0,324.3 460.0,324.0 C461.0,323.7 461.8,320.0 463.0,319.0 C464.2,318.0 465.8,318.2 467.0,318.0 C468.2,317.8 469.2,320.0 470.0,318.0 C470.8,316.0 471.3,306.7 472.0,306.0 C472.7,305.3 473.3,311.0 474.0,314.0 C474.7,317.0 475.2,322.5 476.0,324.0 C476.8,325.5 477.9,323.0 479.0,323.0 C480.1,323.0 481.4,324.7 482.6,324.0 C483.8,323.3 484.8,322.2 486.0,319.0 C487.2,315.8 488.8,310.0 490.0,305.0 C491.2,300.0 492.1,291.3 493.0,289.0 C493.9,286.7 494.7,289.8 495.4,291.0 C496.1,292.2 496.6,295.2 497.0,296.0 C497.4,296.8 497.5,297.0 498.0,296.0 C498.5,295.0 499.3,292.3 500.0,290.0 C500.7,287.7 501.3,284.8 502.0,282.0 C502.7,279.2 503.7,272.3 504.4,273.0 C505.1,273.7 505.6,278.8 506.0,286.0 C506.4,293.2 506.6,304.7 507.0,316.0 C507.4,327.3 508.1,341.2 508.4,354.0 C508.7,366.8 508.9,386.5 509.0,393.0" fill="none" stroke="#dc1a26" stroke-width="1.8" stroke-linejoin="round" stroke-linecap="round"/><path d="M374.0,388.0 C374.2,387.7 374.3,385.8 375.0,386.0 C375.7,386.2 377.0,388.2 378.0,389.0 C379.0,389.8 380.0,391.0 381.0,391.0 C382.0,391.0 383.1,391.2 384.0,389.0 C384.9,386.8 385.8,381.2 386.6,378.0 C387.4,374.8 387.9,371.5 388.6,370.0 C389.3,368.5 390.3,369.3 391.0,369.0 C391.7,368.7 392.3,366.8 393.0,368.0 C393.7,369.2 394.6,375.8 395.4,376.0 C396.2,376.2 397.1,370.3 398.0,369.0 C398.9,367.7 400.2,369.3 401.0,368.0 C401.8,366.7 402.2,362.3 403.0,361.0 C403.8,359.7 405.1,360.3 406.0,360.0 C406.9,359.7 407.8,358.2 408.6,359.0 C409.4,359.8 410.3,364.5 411.0,365.0 C411.7,365.5 412.3,363.3 413.0,362.0 C413.7,360.7 414.3,358.2 415.0,357.0 C415.7,355.8 416.6,356.0 417.4,355.0 C418.2,354.0 419.1,351.3 420.0,351.0 C420.9,350.7 422.1,353.3 423.0,353.0 C423.9,352.7 424.6,350.5 425.4,349.0 C426.2,347.5 427.2,344.0 428.0,344.0 C428.8,344.0 429.4,347.8 430.0,349.0 C430.6,350.2 430.9,351.8 431.4,351.0 C431.9,350.2 432.6,346.8 433.0,344.0 C433.4,341.2 433.5,336.5 434.0,334.0 C434.5,331.5 435.2,330.8 436.0,329.0 C436.8,327.2 438.0,324.0 439.0,323.0 C440.0,322.0 441.1,322.5 442.0,323.0 C442.9,323.5 443.8,324.2 444.6,326.0 C445.4,327.8 445.9,332.8 446.6,333.6 C447.3,334.4 448.1,332.0 449.0,331.0 C449.9,330.0 451.0,326.9 452.0,327.6 C453.0,328.3 454.0,334.3 455.0,335.0 C456.0,335.7 457.2,332.7 458.0,331.6 C458.8,330.5 459.2,328.9 460.0,328.6 C460.8,328.3 462.2,329.7 463.0,329.6 C463.8,329.5 464.3,326.9 465.0,328.0 C465.7,329.1 466.2,333.3 467.0,336.0 C467.8,338.7 469.0,340.7 470.0,344.0 C471.0,347.3 472.2,353.7 473.0,356.0 C473.8,358.3 474.3,357.8 475.0,358.0 C475.7,358.2 476.2,356.0 477.0,357.0 C477.8,358.0 479.1,359.2 480.0,364.0 C480.9,368.8 481.8,385.7 482.6,386.0 C483.4,386.3 484.3,371.0 485.0,366.0 C485.7,361.0 486.2,358.3 487.0,356.0 C487.8,353.7 489.0,353.2 490.0,352.0 C491.0,350.8 492.0,350.3 493.0,349.0 C494.0,347.7 495.1,348.8 496.0,344.0 C496.9,339.2 497.6,325.7 498.4,320.0 C499.2,314.3 500.1,313.2 501.0,310.0 C501.9,306.8 503.2,302.3 504.0,301.0 C504.8,299.7 505.3,301.3 506.0,302.0 C506.7,302.7 507.1,306.0 508.0,305.0 C508.9,304.0 510.4,296.2 511.6,296.0 C512.8,295.8 514.0,303.7 515.0,304.0 C516.0,304.3 516.6,299.5 517.6,298.0 C518.6,296.5 520.1,295.4 521.0,295.0 C521.9,294.6 522.2,293.8 523.0,295.6 C523.8,297.4 525.2,306.1 526.0,306.0 C526.8,305.9 527.2,297.1 528.0,295.0 C528.8,292.9 530.2,293.9 531.0,293.6 C531.8,293.3 532.2,292.3 533.0,293.0 C533.8,293.7 535.1,295.3 536.0,298.0 C536.9,300.7 537.7,308.0 538.4,309.0 C539.1,310.0 539.7,306.2 540.4,304.0 C541.1,301.8 541.8,295.7 542.6,296.0 C543.4,296.3 544.1,303.7 545.0,306.0 C545.9,308.3 547.2,307.0 548.0,310.0 C548.8,313.0 549.3,320.0 550.0,324.0 C550.7,328.0 551.3,332.5 552.0,334.0 C552.7,335.5 553.6,332.7 554.4,333.0 C555.2,333.3 556.1,335.7 557.0,336.0 C557.9,336.3 558.8,333.8 559.6,335.0 C560.4,336.2 561.2,341.8 562.0,343.0 C562.8,344.2 563.7,341.7 564.4,342.0 C565.1,342.3 565.4,345.3 566.0,345.0 C566.6,344.7 567.3,339.3 568.0,340.0 C568.7,340.7 569.6,347.5 570.4,349.0 C571.2,350.5 572.1,347.9 573.0,349.0 C573.9,350.1 575.2,354.4 576.0,355.6 C576.8,356.8 577.3,356.4 578.0,356.0 C578.7,355.6 579.3,354.2 580.0,353.0 C580.7,351.8 581.4,349.5 582.4,349.0 C583.4,348.5 584.7,349.7 586.0,350.0 C587.3,350.3 588.8,351.3 590.0,351.0 C591.2,350.7 592.2,347.5 593.0,348.0 C593.8,348.5 594.3,351.3 595.0,354.0 C595.7,356.7 596.2,363.5 597.0,364.0 C597.8,364.5 599.2,357.7 600.0,357.0 C600.8,356.3 601.3,358.3 602.0,360.0 C602.7,361.7 603.2,365.3 604.0,367.0 C604.8,368.7 606.0,368.7 607.0,370.0 C608.0,371.3 609.2,373.2 610.0,375.0 C610.8,376.8 611.3,378.5 612.0,381.0 C612.7,383.5 613.7,388.5 614.0,390.0" fill="none" stroke="#1616d2" stroke-width="1.8" stroke-linejoin="round" stroke-linecap="round"/></g>
<g font-family="Liberation Sans, sans-serif" font-size="12.8" fill="#2e2e2e" stroke="#2e2e2e" stroke-width="0.3" transform="scale(0.92,1)"><text x="51.41" y="140.0" text-anchor="end">0.0</text><text x="51.41" y="112.5" text-anchor="end">1.0</text><text x="51.41" y="85.0" text-anchor="end">2.0</text><text x="51.41" y="57.5" text-anchor="end">3.0</text><text x="51.41" y="30.0" text-anchor="end">4.0</text><text x="51.41" y="236.4" text-anchor="end">0.3</text><text x="51.41" y="202.0" text-anchor="end">0.6</text><text x="51.41" y="167.6" text-anchor="end">0.9</text><text x="51.41" y="270.8" text-anchor="end">0.0</text><text x="51.41" y="398.6" text-anchor="end">0.0</text><text x="51.41" y="380.7" text-anchor="end">1.5</text><text x="51.41" y="362.8" text-anchor="end">3.0</text><text x="51.41" y="345.0" text-anchor="end">4.5</text><text x="51.41" y="327.1" text-anchor="end">6.0</text><text x="51.41" y="309.2" text-anchor="end">7.5</text><text x="51.41" y="291.3" text-anchor="end">9.0</text><text x="397.39" y="140.0" text-anchor="end">0.00</text><text x="397.39" y="123.7" text-anchor="end">1.00</text><text x="397.39" y="107.4" text-anchor="end">2.00</text><text x="397.39" y="91.1" text-anchor="end">3.00</text><text x="397.39" y="74.8" text-anchor="end">4.00</text><text x="397.39" y="58.5" text-anchor="end">5.00</text><text x="397.39" y="42.2" text-anchor="end">6.00</text><text x="397.39" y="25.9" text-anchor="end">7.00</text><text x="397.39" y="9.6" text-anchor="end">8.00</text><text x="397.39" y="244.7" text-anchor="end">0.40</text><text x="397.39" y="218.6" text-anchor="end">0.80</text><text x="397.39" y="192.4" text-anchor="end">1.20</text><text x="397.39" y="166.3" text-anchor="end">1.60</text><text x="397.39" y="270.8" text-anchor="end">0.00</text><text x="397.39" y="398.6" text-anchor="end">0.0</text><text x="397.39" y="380.3" text-anchor="end">10.0</text><text x="397.39" y="362.0" text-anchor="end">20.0</text><text x="397.39" y="343.7" text-anchor="end">30.0</text><text x="397.39" y="325.4" text-anchor="end">40.0</text><text x="397.39" y="307.1" text-anchor="end">50.0</text><text x="397.39" y="288.8" text-anchor="end">60.0</text><text x="59.51" y="411.2" text-anchor="middle">-5</text><text x="89.57" y="411.2" text-anchor="middle">-4</text><text x="119.62" y="411.2" text-anchor="middle">-3</text><text x="149.67" y="411.2" text-anchor="middle">-2</text><text x="179.73" y="411.2" text-anchor="middle">-1</text><text x="211.63" y="411.2" text-anchor="middle">0</text><text x="241.68" y="411.2" text-anchor="middle">1</text><text x="271.74" y="411.2" text-anchor="middle">2</text><text x="301.79" y="411.2" text-anchor="middle">3</text><text x="331.85" y="411.2" text-anchor="middle">4</text><text x="405.38" y="411.2" text-anchor="middle">-5</text><text x="429.26" y="411.2" text-anchor="middle">-4</text><text x="453.14" y="411.2" text-anchor="middle">-3</text><text x="477.02" y="411.2" text-anchor="middle">-2</text><text x="500.90" y="411.2" text-anchor="middle">-1</text><text x="526.63" y="411.2" text-anchor="middle">0</text><text x="550.51" y="411.2" text-anchor="middle">1</text><text x="574.39" y="411.2" text-anchor="middle">2</text><text x="598.27" y="411.2" text-anchor="middle">3</text><text x="622.15" y="411.2" text-anchor="middle">4</text><text x="646.03" y="411.2" text-anchor="middle">5</text><text x="669.91" y="411.2" text-anchor="middle">6</text></g>
<g font-family="Liberation Serif, serif" font-size="16.9" fill="#111">
<text x="67" y="24.5">U-f</text>
<text x="65" y="155">U-d</text>
<text x="155.4" y="286" text-anchor="end">PBE-total</text>
<text x="155.4" y="302" text-anchor="end">HSE06-total</text>
<text x="416" y="26" text-anchor="end">U-d</text>
<text x="416" y="46.4" text-anchor="end">U-f</text>
<text x="393" y="157">Zr-d</text>
<text x="466" y="287" text-anchor="end">PBE-total</text>
<text x="466" y="307" text-anchor="end">HSE06-total</text>
</g>
<g font-family="Liberation Serif, serif" font-weight="bold" fill="#111">
<text transform="translate(13.5,311.5) rotate(-90)" font-size="19.7">Density of States (state/eV)</text>
<text x="142" y="431" font-size="19.6">(a) α-U</text>
<text x="304" y="431.5" font-size="19">E-E<tspan font-size="12" dy="7.5">F</tspan><tspan dy="-7.5"> (eV)</tspan></text>
<text x="433" y="431" font-size="19">(b) SQS-24-Zr<tspan font-size="12" dy="6.5">2</tspan><tspan dy="-6.5">U</tspan></text>
</g>
</svg></body></html>
